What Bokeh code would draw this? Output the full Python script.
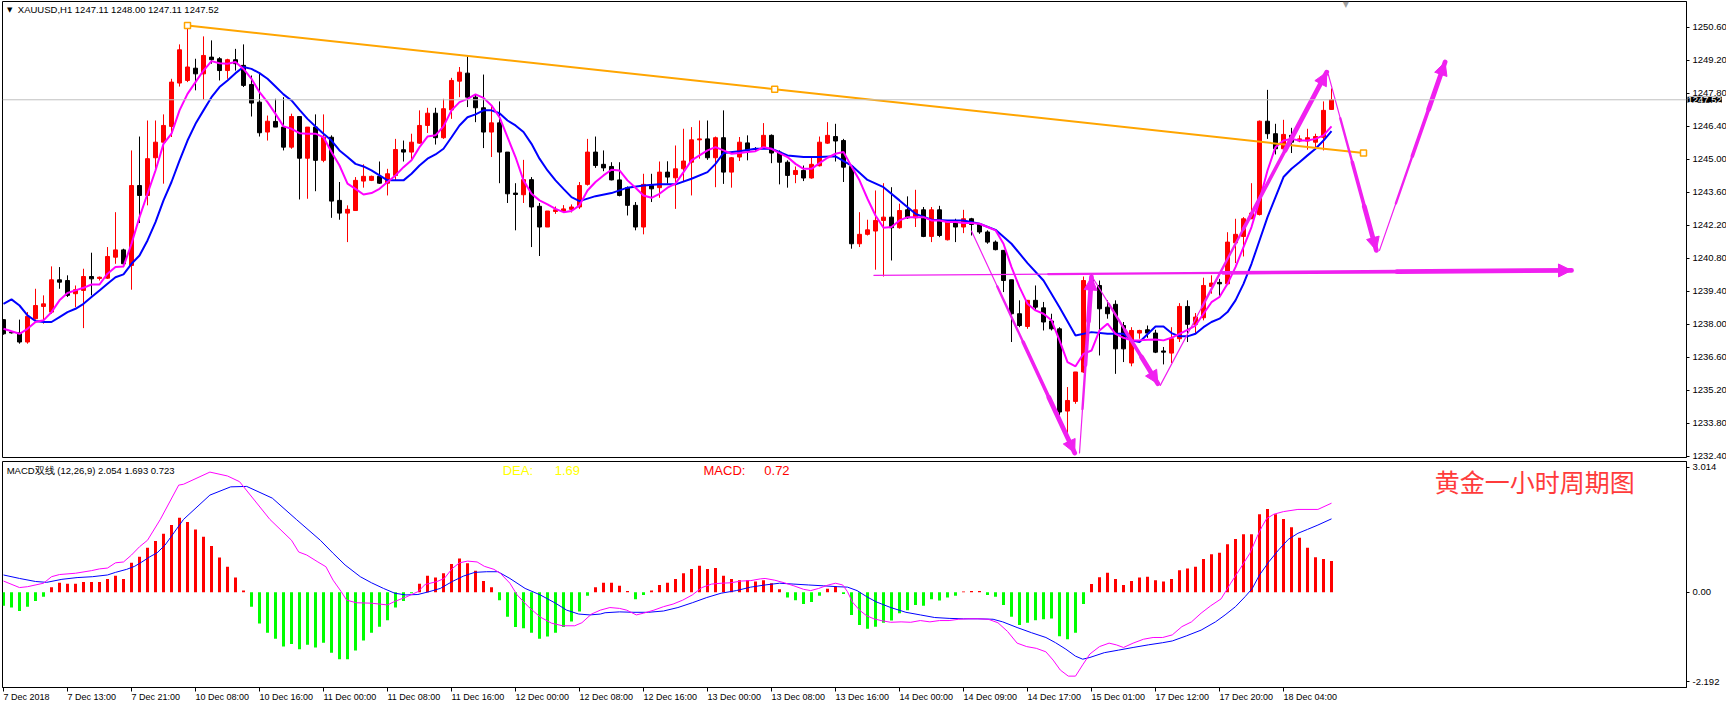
from bokeh.plotting import figure
from bokeh.layouts import column
from bokeh.models import (Range1d, FixedTicker, Span, Label, Arrow, NormalHead,
                          ColumnDataSource, NumeralTickFormatter)
from bokeh.embed import file_html
from bokeh.resources import INLINE

# ---------------- data ----------------
open_p = [1238.19, 1237.66, 1237.63, 1237.24, 1238.23, 1238.75, 1238.51, 1239.88, 1239.85, 1239.29,
          1239.43, 1240.02, 1239.94, 1239.95, 1240.84, 1241.15, 1240.49, 1243.88, 1243.46, 1245.06,
          1245.72, 1246.39, 1248.23, 1248.34, 1248.86, 1248.62, 1249.33, 1249.26, 1248.76, 1249.22,
          1248.98, 1248.17, 1247.42, 1246.15, 1246.60, 1246.36, 1245.51, 1246.81, 1245.04, 1246.36,
          1244.95, 1245.93, 1243.25, 1242.71, 1242.82, 1244.07, 1244.10, 1244.27, 1243.98, 1244.31,
          1245.40, 1245.30, 1245.68, 1246.43, 1246.95, 1245.91, 1247.09, 1248.31, 1248.65, 1247.63,
          1247.18, 1246.15, 1246.54, 1245.30, 1243.56, 1243.49, 1244.13, 1243.00, 1242.12, 1242.78,
          1242.78, 1242.87, 1242.97, 1243.93, 1245.30, 1244.78, 1244.69, 1244.12, 1243.79, 1243.04,
          1242.12, 1243.88, 1243.79, 1244.45, 1244.21, 1244.59, 1244.87, 1245.82, 1245.86, 1245.06,
          1245.91, 1244.45, 1245.09, 1245.69, 1245.44, 1245.51, 1246.01, 1245.30, 1244.87, 1244.35,
          1244.52, 1244.20, 1244.72, 1245.68, 1245.96, 1245.79, 1244.69, 1241.41, 1241.81, 1241.95,
          1242.40, 1242.54, 1242.09, 1242.85, 1242.51, 1242.85, 1241.72, 1242.85, 1241.58, 1242.33,
          1242.12, 1242.47, 1242.23, 1241.91, 1241.48, 1241.13, 1239.88, 1238.44, 1237.90, 1239.01,
          1238.69, 1238.13, 1237.80, 1234.31, 1234.72, 1235.97, 1239.88, 1239.64, 1238.72, 1238.84,
          1237.94, 1236.35, 1237.62, 1237.76, 1237.62, 1236.86, 1236.77, 1237.38, 1238.75, 1237.99,
          1238.27, 1239.60, 1239.77, 1239.71, 1241.45, 1241.72, 1242.47, 1242.65, 1246.61, 1246.08,
          1245.44, 1246.01, 1245.77, 1245.77, 1245.72, 1245.93, 1247.11]
high_p = [1238.19, 1237.70, 1238.19, 1238.51, 1239.50, 1239.22, 1240.45, 1240.42, 1240.07, 1239.64,
          1240.35, 1241.03, 1240.02, 1241.27, 1242.75, 1241.20, 1245.37, 1245.96, 1246.64, 1246.64,
          1246.90, 1248.41, 1249.87, 1250.74, 1249.26, 1250.21, 1250.04, 1249.33, 1249.26, 1249.68,
          1249.87, 1248.55, 1248.69, 1246.85, 1247.56, 1247.63, 1246.93, 1246.81, 1246.36, 1246.90,
          1246.90, 1246.01, 1244.03, 1243.04, 1244.24, 1244.78, 1244.30, 1244.90, 1244.59, 1245.86,
          1245.79, 1246.08, 1247.07, 1247.18, 1247.18, 1247.56, 1248.45, 1248.91, 1249.36, 1247.75,
          1248.59, 1247.24, 1247.45, 1245.30, 1243.98, 1244.97, 1244.24, 1243.14, 1242.80, 1242.99,
          1243.05, 1243.08, 1244.03, 1245.86, 1245.96, 1245.37, 1244.87, 1244.87, 1243.84, 1243.18,
          1244.38, 1244.38, 1244.90, 1244.91, 1245.58, 1246.29, 1246.36, 1246.64, 1246.64, 1245.96,
          1247.07, 1245.09, 1245.94, 1246.01, 1245.51, 1246.53, 1246.05, 1245.37, 1244.95, 1244.69,
          1244.73, 1245.09, 1245.96, 1246.57, 1246.50, 1245.86, 1244.73, 1242.75, 1242.43, 1243.67,
          1243.98, 1243.81, 1243.11, 1243.42, 1243.70, 1242.97, 1242.97, 1243.02, 1242.40, 1242.47,
          1242.85, 1242.51, 1242.26, 1241.98, 1241.55, 1241.13, 1239.88, 1239.01, 1239.01, 1239.64,
          1238.94, 1238.44, 1237.87, 1235.33, 1235.97, 1240.02, 1240.14, 1239.85, 1239.01, 1239.01,
          1238.09, 1237.87, 1237.76, 1237.94, 1237.76, 1237.03, 1237.87, 1238.89, 1239.01, 1238.47,
          1239.97, 1240.07, 1239.92, 1241.90, 1242.47, 1242.54, 1243.98, 1246.64, 1247.94, 1246.50,
          1246.67, 1246.33, 1246.01, 1246.29, 1246.08, 1247.45, 1248.00]
low_p = [1237.55, 1237.60, 1237.17, 1237.17, 1238.19, 1238.02, 1238.44, 1239.50, 1239.15, 1238.72,
         1237.83, 1239.22, 1239.85, 1239.92, 1240.56, 1240.42, 1239.46, 1242.29, 1243.04, 1244.52,
         1243.96, 1245.94, 1248.08, 1248.27, 1247.92, 1247.52, 1249.05, 1248.34, 1248.41, 1248.76,
         1248.06, 1246.81, 1245.96, 1245.79, 1246.36, 1245.37, 1245.44, 1243.29, 1243.32, 1243.64,
         1244.87, 1242.51, 1242.43, 1241.48, 1242.82, 1243.79, 1244.07, 1243.95, 1243.46, 1244.10,
         1244.90, 1244.95, 1245.65, 1246.11, 1245.62, 1245.86, 1246.71, 1247.63, 1247.21, 1246.57,
         1245.47, 1245.09, 1243.98, 1243.14, 1241.98, 1243.14, 1241.27, 1240.89, 1242.12, 1242.68,
         1242.74, 1242.74, 1242.89, 1243.88, 1244.63, 1244.49, 1244.10, 1243.42, 1242.61, 1241.98,
         1241.81, 1243.18, 1243.36, 1243.96, 1242.89, 1244.03, 1243.46, 1245.02, 1244.97, 1243.81,
         1243.95, 1243.79, 1244.92, 1244.95, 1245.34, 1245.44, 1244.83, 1243.93, 1243.79, 1243.98,
         1244.07, 1244.17, 1244.69, 1245.65, 1244.90, 1244.03, 1241.20, 1241.27, 1241.76, 1240.31,
         1240.02, 1240.70, 1242.05, 1242.47, 1242.12, 1241.69, 1241.48, 1241.69, 1241.55, 1241.48,
         1241.86, 1241.76, 1241.83, 1241.41, 1241.13, 1239.36, 1237.24, 1237.87, 1237.80, 1238.58,
         1237.73, 1237.73, 1234.13, 1232.85, 1234.62, 1235.93, 1239.57, 1236.67, 1238.23, 1235.89,
         1236.39, 1236.21, 1237.38, 1237.42, 1236.77, 1236.29, 1236.35, 1237.24, 1237.24, 1237.59,
         1238.16, 1239.29, 1239.15, 1239.68, 1240.59, 1240.87, 1242.47, 1242.61, 1245.86, 1245.20,
         1245.37, 1245.26, 1245.72, 1245.40, 1245.40, 1245.37, 1247.11]
close_p = [1237.59, 1237.63, 1237.24, 1238.33, 1238.79, 1238.86, 1239.88, 1239.78, 1239.22, 1239.46,
           1240.02, 1239.92, 1239.99, 1240.87, 1241.15, 1240.56, 1243.88, 1243.46, 1245.02, 1245.72,
           1246.43, 1248.27, 1249.64, 1248.91, 1248.62, 1249.40, 1249.22, 1248.76, 1249.22, 1249.05,
           1248.13, 1247.38, 1246.12, 1246.61, 1246.36, 1245.51, 1246.81, 1245.04, 1246.36, 1244.95,
           1245.93, 1243.22, 1242.71, 1242.87, 1244.10, 1244.27, 1244.27, 1243.98, 1244.38, 1245.41,
           1245.30, 1245.72, 1246.43, 1246.95, 1245.91, 1247.14, 1248.34, 1248.69, 1247.63, 1247.18,
           1246.15, 1246.54, 1245.30, 1243.53, 1243.50, 1244.13, 1242.97, 1242.12, 1242.80, 1242.85,
           1242.89, 1242.97, 1243.88, 1245.30, 1244.73, 1244.63, 1244.12, 1243.46, 1243.04, 1242.12,
           1243.93, 1243.74, 1244.45, 1244.24, 1244.59, 1244.92, 1245.82, 1245.86, 1245.06, 1245.91,
           1244.45, 1245.06, 1245.72, 1245.37, 1245.41, 1246.01, 1245.26, 1244.87, 1244.31, 1244.52,
           1244.20, 1244.78, 1245.72, 1246.01, 1245.77, 1244.66, 1241.41, 1241.81, 1242.00, 1242.40,
           1242.54, 1242.09, 1242.82, 1242.51, 1242.85, 1241.72, 1242.85, 1241.76, 1242.33, 1242.12,
           1242.47, 1242.23, 1241.91, 1241.48, 1241.16, 1239.85, 1238.44, 1237.94, 1239.01, 1238.72,
           1238.09, 1237.80, 1234.27, 1234.76, 1235.97, 1239.85, 1239.64, 1238.65, 1238.44, 1236.95,
           1236.95, 1237.73, 1237.73, 1237.62, 1236.81, 1236.81, 1237.38, 1238.75, 1237.99, 1238.30,
           1239.64, 1239.74, 1239.71, 1241.48, 1241.81, 1242.47, 1242.71, 1246.61, 1246.08, 1245.44,
           1246.05, 1245.72, 1245.86, 1245.91, 1245.96, 1247.07, 1247.52]

ma_fast_x = [0] + list(range(2, 167))
ma_fast = [1237.80,
           1237.59, 1237.80, 1238.09, 1238.16, 1238.51, 1239.01, 1239.32, 1239.43, 1239.54, 1239.68,
           1239.68, 1240.14, 1240.42, 1240.45, 1241.41, 1242.54, 1243.53, 1244.52, 1245.65, 1246.08,
           1247.07, 1247.77, 1248.27, 1248.76, 1249.16, 1249.07, 1249.05, 1249.12, 1248.83, 1248.41,
           1247.84, 1247.42, 1246.92, 1246.39, 1246.29, 1246.10, 1246.08, 1246.08, 1245.93, 1245.30,
           1244.73, 1243.96, 1243.74, 1243.50, 1243.56, 1243.74, 1244.03, 1244.31, 1244.66, 1244.95,
           1245.51, 1245.96, 1246.01, 1246.39, 1247.07, 1247.42, 1247.56, 1247.75, 1247.60, 1247.28,
           1246.78, 1245.93, 1245.09, 1244.10, 1243.53, 1243.25, 1243.08, 1242.89, 1242.75, 1242.80,
           1243.04, 1243.67, 1244.03, 1244.31, 1244.55, 1244.52, 1244.10, 1243.79, 1243.46, 1243.36,
           1243.53, 1243.79, 1243.96, 1244.45, 1244.95, 1245.16, 1245.37, 1245.51, 1245.37, 1245.23,
           1245.26, 1245.30, 1245.34, 1245.51, 1245.44, 1245.26, 1245.09, 1244.80, 1244.59, 1244.59,
           1244.83, 1245.06, 1245.23, 1245.30, 1244.69, 1244.10, 1243.32, 1242.61, 1242.09, 1242.12,
           1242.40, 1242.54, 1242.54, 1242.54, 1242.40, 1242.40, 1242.33, 1242.33, 1242.29, 1242.29,
           1242.26, 1242.12, 1241.98, 1241.41, 1240.42, 1239.57, 1238.86, 1238.58, 1238.44, 1238.16,
           1237.31, 1236.39, 1236.21, 1236.74, 1236.88, 1237.73, 1238.02, 1237.59, 1237.42, 1237.31,
           1237.31, 1237.34, 1237.35, 1237.31, 1237.42, 1237.59, 1237.76, 1237.94, 1238.44, 1238.93,
           1239.15, 1239.71, 1240.42, 1241.27, 1242.12, 1243.25, 1244.52, 1245.51, 1245.79, 1245.86,
           1245.79, 1245.79, 1245.86, 1246.01, 1246.39]

ma_slow_x = (list(range(0, 73)) + [74, 76, 78, 80, 82, 84, 86, 88, 89, 90, 92, 94, 96, 98, 100,
             102, 104, 106, 108, 110, 112, 114, 116, 118, 120, 122, 124, 126, 128, 130, 132, 134,
             136, 138, 140, 141, 142, 144, 145, 146, 147, 148, 149, 150, 151, 152, 153, 154, 155,
             156, 157, 158, 159, 160, 161, 162, 163, 164, 165, 166])
ma_slow = [1238.86, 1239.05, 1238.79, 1238.37, 1238.13, 1238.09, 1238.09, 1238.30, 1238.51, 1238.65,
           1238.86, 1239.15, 1239.43, 1239.71, 1239.99, 1240.11, 1240.56, 1240.91, 1241.55, 1242.33,
           1243.25, 1244.03, 1244.94, 1245.79, 1246.50, 1247.07, 1247.63, 1248.06, 1248.34, 1248.65,
           1248.91, 1248.83, 1248.65, 1248.41, 1248.08, 1247.75, 1247.49, 1247.09, 1246.71, 1246.39,
           1246.08, 1245.79, 1245.37, 1245.09, 1244.80, 1244.69, 1244.52, 1244.31, 1244.10, 1244.10,
           1244.10, 1244.38, 1244.73, 1245.02, 1245.20, 1245.44, 1245.93, 1246.43, 1246.78, 1246.90,
           1247.07, 1247.07, 1246.95, 1246.64, 1246.43, 1246.15, 1245.65, 1245.02, 1244.52, 1244.10,
           1243.74, 1243.39, 1243.22,
           1243.43, 1243.56, 1243.79, 1243.88, 1243.93, 1243.93, 1244.17, 1244.45, 1244.80, 1245.26,
           1245.34, 1245.44, 1245.44, 1245.16, 1245.09, 1245.09, 1245.12, 1244.73, 1244.12, 1243.81,
           1243.25, 1242.68, 1242.43, 1242.40, 1242.40, 1242.26, 1242.00, 1241.41, 1240.59, 1239.85,
           1238.72, 1237.52, 1237.66, 1237.59,
           1237.59, 1237.31, 1237.24, 1237.90, 1237.90, 1237.62, 1237.48, 1237.48, 1237.59, 1237.87,
           1238.09, 1238.23, 1238.51, 1239.01, 1239.71, 1240.56, 1241.55, 1242.54, 1243.39, 1244.24,
           1244.59, 1244.87, 1245.16, 1245.44, 1245.79, 1246.19]

macd_hist = [-0.31, -0.35, -0.43, -0.33, -0.20, -0.10, 0.115, 0.22, 0.20, 0.20,
             0.24, 0.24, 0.24, 0.31, 0.38, 0.31, 0.68, 0.82, 1.03, 1.18,
             1.35, 1.55, 1.72, 1.62, 1.45, 1.28, 1.07, 0.80, 0.59, 0.34,
             0.04, -0.33, -0.72, -0.93, -1.07, -1.25, -1.19, -1.31, -1.21, -1.27,
             -1.16, -1.39, -1.54, -1.54, -1.34, -1.11, -0.93, -0.79, -0.64, -0.35,
             -0.20, -0.02, 0.20, 0.38, 0.34, 0.44, 0.65, 0.78, 0.67, 0.50,
             0.26, 0.115, -0.18, -0.56, -0.80, -0.83, -0.93, -1.07, -1.02, -0.93,
             -0.80, -0.67, -0.44, -0.08, 0.115,
             0.22, 0.22, 0.15, 0.03, -0.16, -0.06, 0.04, 0.17, 0.22, 0.31,
             0.44, 0.54, 0.61, 0.54, 0.56, 0.38, 0.31, 0.28, 0.28, 0.25,
             0.28, 0.21, 0.07, -0.12, -0.18, -0.27, -0.22, -0.08, 0.08, 0.13,
             -0.04, -0.52, -0.75, -0.84, -0.79, -0.70, -0.65, -0.48, -0.41, -0.29,
             -0.31, -0.16, -0.19, -0.12, -0.08, 0.02, 0.03, 0.03, -0.06, -0.10,
             -0.29, -0.56, -0.75, -0.70, -0.64, -0.62, -0.60, -1.01, -1.08, -0.93,
             -0.27, 0.19, 0.35, 0.45, 0.31, 0.17, 0.26, 0.34, 0.36, 0.28,
             0.25, 0.31, 0.51, 0.55, 0.59, 0.77, 0.88, 0.91, 1.11, 1.23,
             1.34, 1.34, 1.80, 1.92, 1.80, 1.69, 1.50, 1.26, 1.03, 0.81,
             0.77, 0.723]

dif_x = [0, 2, 3, 5, 6, 7, 9, 11, 12, 13, 14, 15, 16, 17, 18, 19.6, 21.9, 22.5, 25.8, 28, 29.5,
         33.3, 36, 36.9, 37.9, 39.3, 40.3, 41.2, 42.2, 42.9, 44.1, 46, 48, 48.9, 50.3, 51.8, 52.7,
         54.2, 55.1, 56.1, 57, 58, 59.2, 60.1, 61.3, 62.1, 63.3, 64.2, 65.6, 67.1, 68.5, 69.9, 71.4,
         72.3, 73.5, 74.6, 75.8, 77.0, 77.9, 79.1, 80.0, 81.3, 82.5, 83.7, 84.9, 86.1, 87.3, 88.5,
         89.7, 90.9, 92.2, 93.4, 94.6, 95.2, 96.4, 97.6, 98.8, 100.0, 100.9, 101.9, 103.1, 104.0,
         104.9, 105.5, 106.1, 107.0, 107.9, 108.8, 109.7, 110.9, 112.2, 113.4, 114.6, 115.8, 117.0,
         118.2, 119.4, 120.6, 121.8, 123.1, 124.3, 125.5, 126.7, 127.9, 129.1, 130.3, 131.2, 132.1,
         133.1, 134.0, 134.9, 135.8, 137.0, 138.2, 139.1, 140.0, 141.2, 142.5, 143.7, 144.9, 146.1,
         147.3, 148.5, 149.7, 150.9, 152.2, 153.4, 154.6, 155.8, 156.7, 157.3, 157.9, 158.8, 160.0,
         161.8, 164.3, 166]
dif = [0.26, 0.11, 0.13, 0.21, 0.36, 0.41, 0.44, 0.50, 0.54, 0.56, 0.68, 0.70, 0.86, 1.05, 1.20,
       1.68, 2.47, 2.49, 2.77, 2.68, 2.55, 1.68, 1.20, 0.93, 0.86, 0.70, 0.59, 0.28, 0.02, -0.18,
       -0.24, -0.25, -0.29, -0.21, -0.11, 0.015, 0.18, 0.25, 0.32, 0.55, 0.68, 0.72, 0.70, 0.60,
       0.53, 0.44, 0.21, -0.06, -0.33, -0.57, -0.71, -0.77, -0.77, -0.70, -0.50, -0.41, -0.35,
       -0.37, -0.41, -0.52, -0.48, -0.41, -0.33, -0.27, -0.18, -0.06, 0.11, 0.19, 0.21, 0.22, 0.26,
       0.27, 0.31, 0.32, 0.28, 0.22, 0.15, 0.07, 0.04, 0.09, 0.17, 0.21, 0.17, 0.015, -0.22, -0.41,
       -0.54, -0.61, -0.65, -0.69, -0.68, -0.69, -0.65, -0.68, -0.65, -0.65, -0.62, -0.61, -0.61,
       -0.62, -0.70, -0.90, -1.17, -1.25, -1.29, -1.37, -1.56, -1.79, -1.93, -1.93, -1.67, -1.42,
       -1.25, -1.17, -1.21, -1.27, -1.17, -1.08, -1.04, -1.04, -0.98, -0.79, -0.68, -0.48, -0.31,
       -0.15, 0.21, 0.55, 0.90, 1.28, 1.51, 1.70, 1.80, 1.86, 1.91, 1.91, 2.054]

dea_x = [0, 2, 4, 5.4, 7.3, 9.2, 11.1, 13, 14, 15.4, 16.4, 17.3, 18.3, 19.2, 20.2, 22.5, 25.8,
         28.4, 30.4, 33.6, 36.6, 39.6, 41.2, 42.7, 44.6, 46, 47.5, 48.9, 50.3, 51.8, 53.2, 54.6,
         56.1, 57.5, 58.9, 60.4, 61.8, 63.3, 65.2, 67.1, 69, 70.4, 71.9, 73.3, 74.6, 75.2, 77.0,
         78.8, 80.6, 82.5, 84.3, 86.1, 87.9, 89.7, 91.6, 93.4, 95.2, 97.0, 98.8, 100.6, 102.5, 104.3,
         105.5, 106.7, 107.9, 109.1, 110.9, 112.8, 114.6, 116.4, 118.2, 120.0, 121.8, 123.7, 124.9,
         126.7, 128.5, 130.3, 131.5, 132.8, 134.0, 134.9, 135.8, 137.6, 139.4, 141.2, 143.1, 144.9,
         146.1, 147.9, 149.7, 151.5, 152.7, 154.0, 155.2, 156.1, 157.0, 158.2, 159.4, 160.6, 161.8,
         163.0, 164.3, 166]
dea = [0.40, 0.32, 0.25, 0.23, 0.30, 0.34, 0.36, 0.40, 0.46, 0.53, 0.60, 0.70, 0.82, 0.91, 1.09,
       1.68, 2.24, 2.43, 2.44, 2.17, 1.68, 1.20, 0.90, 0.63, 0.36, 0.22, 0.09, -0.02, -0.06, -0.05,
       0.015, 0.09, 0.25, 0.375, 0.46, 0.475, 0.475, 0.32, 0.09, -0.06, -0.25, -0.41, -0.50, -0.52,
       -0.50, -0.47, -0.45, -0.46, -0.46, -0.43, -0.35, -0.24, -0.12, -0.02, 0.04, 0.12, 0.17, 0.21,
       0.19, 0.17, 0.15, 0.13, 0.12, 0.04, -0.10, -0.22, -0.35, -0.46, -0.52, -0.58, -0.60, -0.61,
       -0.61, -0.62, -0.68, -0.81, -0.93, -1.04, -1.16, -1.31, -1.47, -1.54, -1.50, -1.39, -1.33,
       -1.27, -1.21, -1.16, -1.12, -1.00, -0.87, -0.68, -0.52, -0.33, -0.10, 0.09, 0.40, 0.71, 0.98,
       1.22, 1.36, 1.45, 1.55, 1.693]

x_ticks = [0, 8, 16, 24, 32, 40, 48, 56, 64, 72, 80, 88, 96, 104, 112, 120, 128, 136, 144, 152, 160]
x_tick_labels = ["7 Dec 2018", "7 Dec 13:00", "7 Dec 21:00", "10 Dec 08:00", "10 Dec 16:00",
                 "11 Dec 00:00", "11 Dec 08:00", "11 Dec 16:00", "12 Dec 00:00", "12 Dec 08:00",
                 "12 Dec 16:00", "13 Dec 00:00", "13 Dec 08:00", "13 Dec 16:00", "14 Dec 00:00",
                 "14 Dec 09:00", "14 Dec 17:00", "15 Dec 01:00", "17 Dec 12:00", "17 Dec 20:00",
                 "18 Dec 04:00"]
price_ticks = [1250.60, 1249.20, 1247.80, 1246.40, 1245.00, 1243.60, 1242.20, 1240.80,
               1239.40, 1238.00, 1236.60, 1235.20, 1233.80, 1232.40]
last_price = 1247.52

# trend line (orange), anchors in (bar, price)
trend_x = [23, 96.4, 170]
trend_y = [1250.67, 1247.97, 1245.26]

# hand-drawn magenta arrows: start bar, start price, end bar, end price
arrow_x0 = [108.8, 121.0, 134.5, 136.1, 144.6, 165.6, 172.0]
arrow_y0 = [1240.07, 1241.95, 1232.53, 1240.00, 1235.40, 1248.60, 1241.13]
arrow_x1 = [196.0, 133.9, 136.0, 144.3, 165.4, 171.6, 180.2]
arrow_y1 = [1240.28, 1232.53, 1240.00, 1235.47, 1248.69, 1241.13, 1249.12]

# ---------------- styles ----------------
RED = "#FF0000"
BLK = "#000000"
MAG = "#FF00FF"
BLUE = "#0000FF"
LIME = "#00FF00"
ARW = "#F020F0"
FONT = "Liberation Sans"

n = len(open_p)
idx = list(range(n))
ccol = [RED if c >= o else BLK for o, c in zip(open_p, close_p)]
src = ColumnDataSource(dict(
    x=idx, h=high_p, l=low_p,
    top=[max(o, c) for o, c in zip(open_p, close_p)],
    bot=[min(o, c) for o, c in zip(open_p, close_p)],
    col=ccol))

xr = Range1d(-0.125, 210.375)

main = figure(frame_width=1684, frame_height=456, x_range=xr,
              y_range=Range1d(1232.34, 1251.69),
              output_backend="svg", toolbar_location=None,
              y_axis_location="right", x_axis_location=None,
              min_border_left=2, min_border_right=0, min_border_top=1, min_border_bottom=3)
main.grid.visible = False
main.outline_line_color = "black"
main.outline_line_width = 1
ya = main.yaxis[0]
ya.ticker = FixedTicker(ticks=price_ticks)
ya.formatter = NumeralTickFormatter(format="0.00")
ya.major_tick_out = 3
ya.major_tick_in = 0
ya.minor_tick_out = 0
ya.minor_tick_in = 0
ya.major_label_standoff = 3
ya.axis_line_color = "black"
ya.major_label_text_font = FONT
ya.major_label_text_font_size = "9.5px"
ya.major_label_text_color = "black"

main.add_layout(Span(location=last_price, dimension="width", line_color="#C0C0C0", line_width=1))

main.segment(x0="x", y0="l", x1="x", y1="h", color="col", line_width=1, source=src)
main.vbar(x="x", width=0.5, top="top", bottom="bot", fill_color="col", line_color="col",
          line_width=1, source=src)

main.line(ma_slow_x, ma_slow, color=BLUE, line_width=2)
main.line(ma_fast_x, ma_fast, color=MAG, line_width=2)

main.line(trend_x, trend_y, color="#FFA500", line_width=2)
main.scatter([trend_x[0], trend_x[-1], trend_x[1]], [trend_y[0], trend_y[-1], trend_y[1]],
             marker="square", size=6, fill_color="white", line_color="#FFA500", line_width=1.5)

# tapered hand-drawn arrows: thin at the start, thick near the head
for k, w in enumerate([1.2, 2.4, 3.6, 4.8]):
    t0, t1 = k / 4.0, (k + 1) / 4.0
    main.segment(x0=[a + (b - a) * t0 for a, b in zip(arrow_x0, arrow_x1)],
                 y0=[a + (b - a) * t0 for a, b in zip(arrow_y0, arrow_y1)],
                 x1=[a + (b - a) * t1 for a, b in zip(arrow_x0, arrow_x1)],
                 y1=[a + (b - a) * t1 for a, b in zip(arrow_y0, arrow_y1)],
                 line_color=ARW, line_width=w, line_cap="round")
for x0, y0, x1, y1 in zip(arrow_x0, arrow_y0, arrow_x1, arrow_y1):
    main.add_layout(Arrow(end=NormalHead(size=13, fill_color=ARW, line_color=ARW),
                          x_start=x0, y_start=y0, x_end=x1, y_end=y1,
                          line_alpha=0.0, line_width=1))

main.add_layout(Label(x=1.79, y=1251.35, text="XAUUSD,H1  1247.11 1248.00 1247.11 1247.52",
                      text_font=FONT, text_font_size="9.5px", text_baseline="middle",
                      text_color="black"))
main.add_layout(Label(x=0.45, y=1251.33, text="\u25bc", text_font="DejaVu Sans",
                      text_font_size="7px", text_baseline="middle", text_color="black"))
main.add_layout(Label(x=167.4, y=1251.55, text="\u25bc", text_font="DejaVu Sans",
                      text_font_size="8px", text_baseline="middle", text_color="#A0A0A0"))
# current-price marker on the price scale (placed in the right side panel so it is not clipped)
main.add_layout(Label(x=1687, x_units="canvas", y=last_price, text="1247.52", text_color="white",
                      background_fill_color="black", text_font=FONT,
                      text_font_size="9.5px", text_baseline="middle"), "right")

# ---------------- MACD panel ----------------
macd = figure(frame_width=1684, frame_height=226, x_range=xr, y_range=Range1d(-2.192, 3.014),
              output_backend="svg", toolbar_location=None, y_axis_location="right",
              min_border_left=2, min_border_right=0, min_border_top=1, min_border_bottom=2)
macd.grid.visible = False
macd.outline_line_color = "black"
xa = macd.xaxis[0]
xa.ticker = FixedTicker(ticks=x_ticks)
xa.major_label_overrides = {t: s for t, s in zip(x_ticks, x_tick_labels)}
xa.major_label_orientation = -0.0001
xa.major_tick_out = 4
xa.major_tick_in = 0
xa.minor_tick_out = 0
xa.minor_tick_in = 0
xa.major_label_standoff = 5
xa.axis_line_color = "black"
xa.major_label_text_font = FONT
xa.major_label_text_font_size = "9px"
xa.major_label_text_color = "black"

my = macd.yaxis[0]
macd_ticks = [2.876, 0.0, -2.061]
my.ticker = FixedTicker(ticks=macd_ticks)
my.major_label_overrides = {2.876: "3.014", 0.0: "0.00", -2.061: "-2.192"}
my.major_tick_out = 3
my.major_tick_in = 0
my.minor_tick_out = 0
my.minor_tick_in = 0
my.major_label_standoff = 3
my.axis_line_color = "black"
my.major_label_text_font = FONT
my.major_label_text_font_size = "9.5px"
my.major_label_text_color = "black"

hcol = [RED if v > 0 else LIME for v in macd_hist]
macd.vbar(x=idx, top=macd_hist, bottom=0, width=0.375, fill_color=hcol, line_color=None)
macd.line(dea_x, dea, color=BLUE, line_width=1)
macd.line(dif_x, dif, color=MAG, line_width=1)

macd.add_layout(Label(x=0.4, y=2.807, text="MACD双线 (12,26,9) 2.054 1.693 0.723",
                      text_font=FONT, text_font_size="9.5px", text_baseline="middle",
                      text_color="black"))
macd.add_layout(Label(x=62.4, y=2.807, text="DEA:", text_font=FONT, text_font_size="13px",
                      text_baseline="middle", text_color="#FFFF00"))
macd.add_layout(Label(x=68.9, y=2.807, text="1.69", text_font=FONT, text_font_size="13px",
                      text_baseline="middle", text_color="#FFFF00"))
macd.add_layout(Label(x=87.5, y=2.807, text="MACD:", text_font=FONT, text_font_size="13px",
                      text_baseline="middle", text_color="#FF0000"))
macd.add_layout(Label(x=95.1, y=2.807, text="0.72", text_font=FONT, text_font_size="13px",
                      text_baseline="middle", text_color="#FF0000"))
macd.add_layout(Label(x=178.9, y=2.576, text="黄金一小时周期图", text_font="Noto Sans CJK SC",
                      text_font_size="25px", text_baseline="middle", text_color="#FF3B3B"))

layout = column(main, macd, spacing=0)
open("out.html", "w").write(file_html(layout, INLINE))
